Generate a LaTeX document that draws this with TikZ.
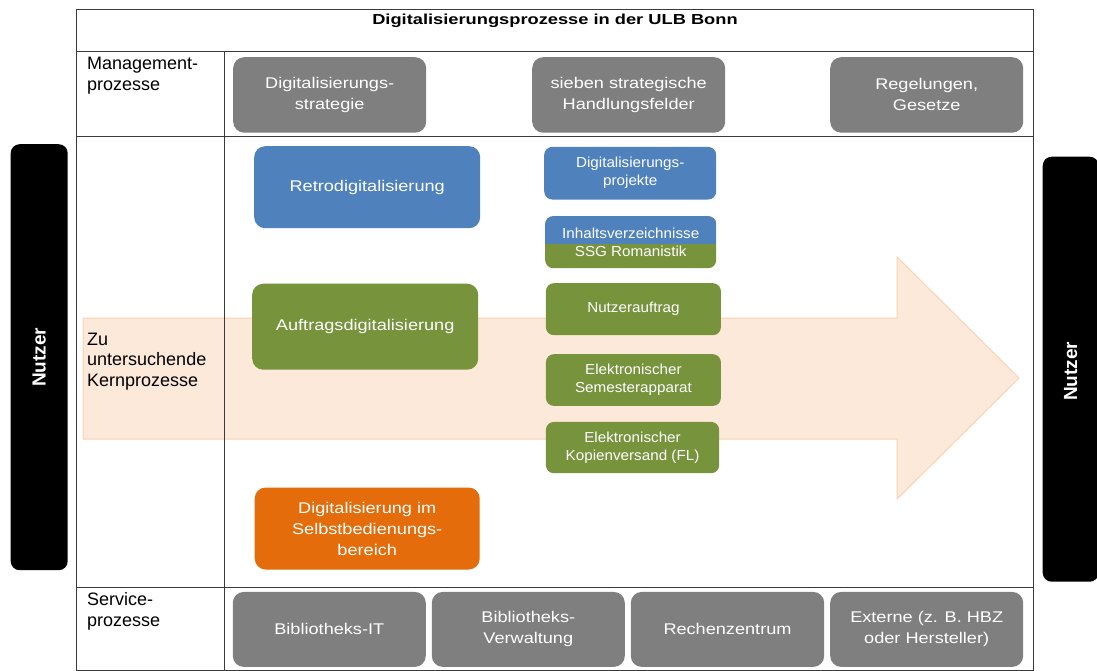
\documentclass[tikz,border=0pt]{standalone}
\usepackage{fontspec}
\setmainfont{Liberation Sans}
\newfontfamily\boxfont[FakeStretch=1.17]{Liberation Sans}
\newfontfamily\smallboxfont[FakeStretch=1.05]{Liberation Sans}
\newfontfamily\titlefont[FakeStretch=1.26]{Liberation Sans}
\usetikzlibrary{calc}
\definecolor{greyC}{HTML}{7F7F7F}
\definecolor{blueC}{HTML}{4F81BD}
\definecolor{greenC}{HTML}{77933C}
\definecolor{orangeC}{HTML}{E46C0A}
\definecolor{peachF}{HTML}{FDE9D9}
\definecolor{peachD}{HTML}{F9D2B2}
\definecolor{lineC}{HTML}{3A3A3A}
\tikzset{
  box/.style={rounded corners=11pt, text=white, align=center, inner sep=0pt, anchor=north west},
  bigtxt/.style={font=\boxfont\fontsize{15.5}{21}\selectfont},
  smalltxt/.style={font=\smallboxfont\fontsize{14.5}{18}\selectfont},
  smallbox/.style={box, smalltxt, rounded corners=8pt},
  rowlabel/.style={anchor=north west, align=left, inner sep=0pt, font=\fontsize{18}{20.6}\selectfont},
  userbar/.style={fill=black, rounded corners=9pt, inner sep=0pt, anchor=north west},
  usertext/.style={rotate=90, text=white, font=\fontsize{19}{22}\bfseries\selectfont},
  tableline/.style={draw=lineC, line width=0.9pt}
}
\begin{document}
\begin{tikzpicture}[x=1pt,y=-1pt]
\useasboundingbox (0,0) rectangle (1097,670);
% arrow
\draw[fill=peachF, draw=peachD, line width=1pt] (83,318) -- (897,318) -- (897,257) -- (1019,378) -- (897,499) -- (897,439) -- (83,439) -- cycle;
% table
\draw[tableline] (76,9) rectangle (1033,670);
\draw[tableline] (76,51) -- (1033,51);
\draw[tableline] (76,136.5) -- (1033,136.5);
\draw[tableline] (76,587) -- (1033,587);
\draw[tableline] (224,51) -- (224,670);
% title
\node[anchor=base, inner sep=0pt, font=\titlefont\fontsize{14.5}{17}\bfseries\selectfont] (title) at (555,24.3) {Digitalisierungsprozesse in der ULB Bonn};
% row labels
\node[rowlabel] (lm) at (87,57.3) {Management-\\prozesse};
\node[rowlabel] (lk) at (87,332.7) {Zu\\untersuchende\\Kernprozesse};
\node[rowlabel] (ls) at (87,592.3) {Service-\\prozesse};
% user bars
\node[userbar, minimum width=57pt, minimum height=426pt] (nl) at (10.5,144) {};
\node[usertext] (nlt) at (nl.center) {Nutzer};
\node[userbar, minimum width=56pt, minimum height=425pt] (nr) at (1042.5,156.5) {};
\node[usertext] (nrt) at ([yshift=-2pt]nr.center) {Nutzer};
% management
\node[box, bigtxt, fill=greyC, minimum width=193pt, minimum height=75.5pt] (m1) at (233,57) {Digitalisierungs-\\strategie};
\node[box, bigtxt, fill=greyC, minimum width=193pt, minimum height=75.5pt] (m2) at (532,57) {sieben strategische\\Handlungsfelder};
\node[box, bigtxt, fill=greyC, minimum width=193pt, minimum height=75.5pt] (m3) at (830,57) {Regelungen,\\Gesetze};
% core
\node[box, bigtxt, fill=blueC, minimum width=226pt, minimum height=82pt] (k1) at (254,146) {Retrodigitalisierung};
\node[box, bigtxt, fill=greenC, minimum width=226pt, minimum height=86pt] (k2) at (252,283.5) {Auftragsdigitalisierung};
\node[box, bigtxt, fill=orangeC, minimum width=225pt, minimum height=82pt] (k3) at (254.5,487.3) {Digitalisierung im\\Selbstbedienungs-\\bereich};
\node[smallbox, fill=blueC, minimum width=172pt, minimum height=52.6pt] (s1) at (544,146.7) {Digitalisierungs-\\projekte};
\node[smallbox, fill=greenC, minimum width=171pt, minimum height=52pt,
  path picture={\fill[blueC, sharp corners] (path picture bounding box.north west) rectangle ($(path picture bounding box.south east)!0.46!(path picture bounding box.north east)$);}] (s2) at (545,216) {Inhaltsverzeichnisse\\SSG Romanistik};
\node[smallbox, fill=greenC, minimum width=175pt, minimum height=52pt] (s3) at (545.7,283) {Nutzerauftrag};
\node[smallbox, fill=greenC, minimum width=175pt, minimum height=51.7pt] (s4) at (545.7,354) {Elektronischer\\Semesterapparat};
\node[smallbox, fill=greenC, minimum width=173.3pt, minimum height=51.3pt] (s5) at (545.7,421.7) {Elektronischer\\Kopienversand (FL)};
% service
\node[box, bigtxt, fill=greyC, minimum width=193pt, minimum height=75pt] (v1) at (232.6,591.7) {Bibliotheks-IT};
\node[box, bigtxt, fill=greyC, minimum width=193pt, minimum height=75pt] (v2) at (431.6,591.7) {Bibliotheks-\\Verwaltung};
\node[box, bigtxt, fill=greyC, minimum width=193.4pt, minimum height=75pt] (v3) at (630.6,591.7) {Rechenzentrum};
\node[box, bigtxt, fill=greyC, minimum width=193pt, minimum height=75pt] (v4) at (830,591.7) {Externe (z. B. HBZ\\oder Hersteller)};
\end{tikzpicture}
\end{document}
